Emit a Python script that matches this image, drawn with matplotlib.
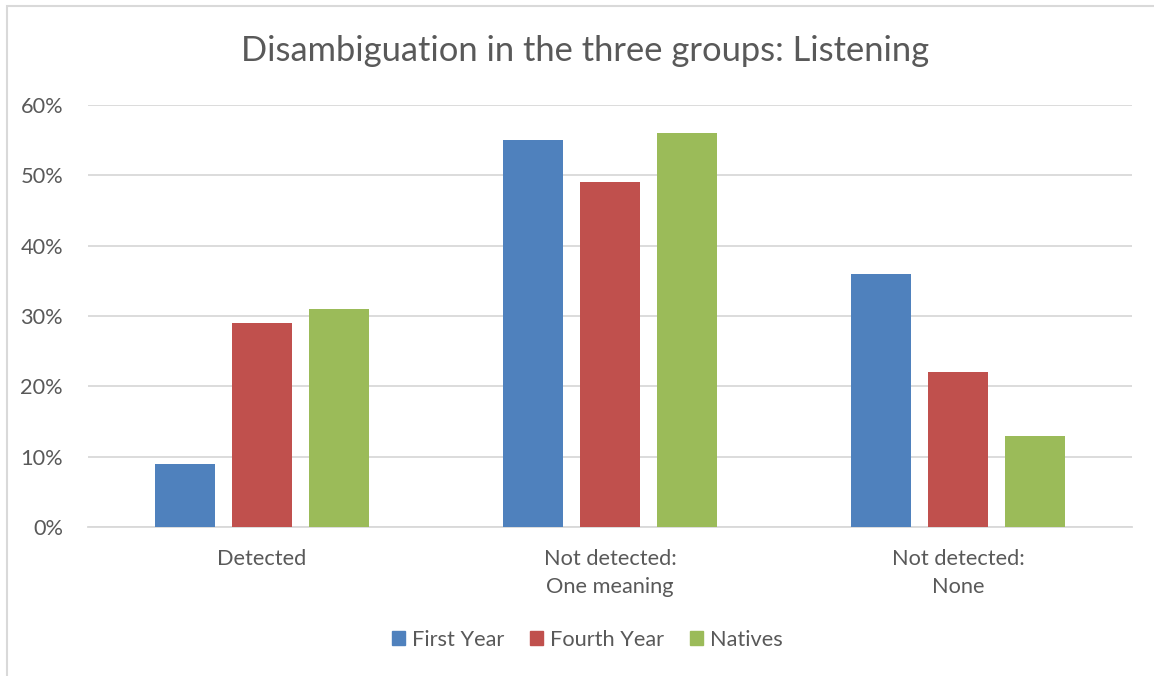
import matplotlib.pyplot as plt
import matplotlib.patches as mpatches
import numpy as np

categories = ['Detected', 'Not detected:\nOne meaning', 'Not detected:\nNone']
groups = ['First Year', 'Fourth Year', 'Natives']
first_year = [9, 55, 36]
fourth_year = [29, 49, 22]
natives = [31, 56, 13]
colors = ['#4F81BD', '#C0504D', '#9BBB59']
ticks = [0, 10, 20, 30, 40, 50, 60]

plt.rcParams['font.family'] = ['Lato', 'DejaVu Sans']
text_color = '#595959'
grid_color = '#D9D9D9'

fig = plt.figure(figsize=(11.54, 6.76), dpi=100)
ax = fig.add_axes([88 / 1154, 1 - 527 / 676, (1132 - 88) / 1154, (527 - 105) / 676])

# chart frame
fig.patches.append(mpatches.Rectangle((7 / 1154, -0.1), 1.1, 1.1 - 6 / 676, transform=fig.transFigure,
                                      fill=False, edgecolor=grid_color, linewidth=1.5))

x = np.arange(len(categories))
width = 60 / 348
step = 77 / 348
for i, (vals, name) in enumerate(zip([first_year, fourth_year, natives], groups)):
    ax.bar(x + (i - 1) * step, np.array(vals) / 100, width, color=colors[i], label=name, zorder=3)

ax.set_xlim(-0.5, 2.5)
ax.set_ylim(0, 0.6)
ax.set_yticks([t / 100 for t in ticks])
ax.set_yticklabels(['%d%%' % t for t in ticks])
ax.set_xticks(x)
ax.set_xticklabels(categories, linespacing=1.5)
ax.tick_params(length=0, labelsize=15.7, colors=text_color)
ax.tick_params(axis='y', pad=18)
ax.tick_params(axis='x', pad=16)
ax.grid(axis='y', color=grid_color, linewidth=1.3, zorder=0)
for s in ['top', 'right', 'left']:
    ax.spines[s].set_visible(False)
ax.spines['bottom'].set_color(grid_color)
ax.spines['bottom'].set_linewidth(1.3)

fig.text(0.507, 1 - 51 / 676, 'Disambiguation in the three groups: Listening', ha='center', va='center',
         fontsize=24.8, color=text_color)

handles = [mpatches.Patch(color=c) for c in colors]
fig.legend(handles, groups, loc='center', bbox_to_anchor=(0.509, 1 - 640 / 676), ncol=3, frameon=False,
           fontsize=15.7, labelcolor=text_color, handlelength=0.6, handleheight=0.6,
           handletextpad=0.32, columnspacing=1.2)

fig.savefig('out.png', dpi=100)
